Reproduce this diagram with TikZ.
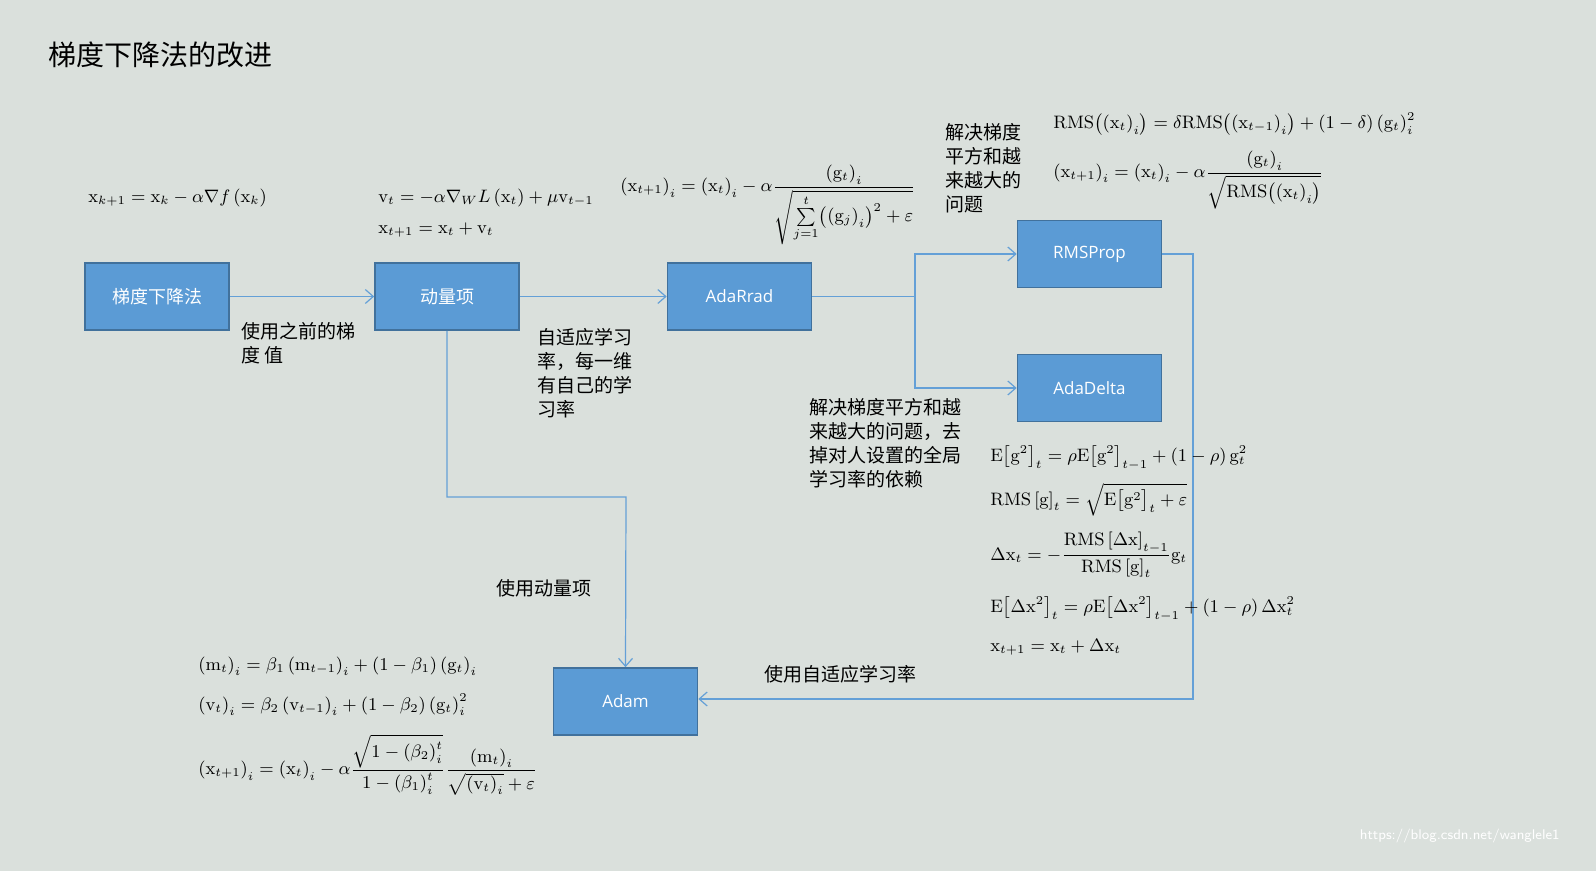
\documentclass[tikz,border=0pt]{standalone}
\usepackage{fontspec}
\usepackage{amsmath}
\newfontfamily\cjk{Noto Sans CJK SC}
\newfontfamily\boxfont{Open Sans}
\usetikzlibrary{arrows.meta}
\definecolor{bg}{RGB}{218,224,220}
\definecolor{boxfill}{RGB}{91,155,213}
\definecolor{boxdraw}{RGB}{65,113,156}
\definecolor{linec}{RGB}{100,160,215}
\begin{document}
\begin{tikzpicture}[x=0.5pt,y=-0.5pt,
  blk/.style={draw=boxdraw,line width=0.8pt,fill=boxfill,text=white,minimum width=72pt,minimum height=33.5pt,inner sep=0pt,font=\boxfont\fontsize{8.5}{10}\selectfont},
  lbl/.style={anchor=north west,align=left,inner sep=0pt,font=\cjk\fontsize{9.5}{12}\selectfont},
  eq/.style={anchor=west,inner sep=0pt,font=\fontsize{9}{11}\selectfont},
  con/.style={draw=linec,line width=0.6pt,-{Straight Barb[length=4pt,width=7pt]}}]
\fill[bg] (0,0) rectangle (1596,871);
\useasboundingbox (0,0) rectangle (1596,871);
\node[anchor=west,inner sep=0pt,font=\cjk\fontsize{14}{16}\selectfont] (title) at (48,55) {梯度下降法的改进};
% boxes
\node[blk,font=\cjk\fontsize{9}{10}\selectfont] (gd) at (157,296.5) {梯度下降法};
\node[blk,font=\cjk\fontsize{9}{10}\selectfont] (mom) at (447,296.5) {动量项};
\node[blk] (ada) at (739.5,296.5) {AdaRrad};
\node[blk] (rms) at (1089.5,254) {RMSProp};
\node[blk] (add) at (1089.5,388) {AdaDelta};
\node[blk] (adam) at (625.5,701.5) {Adam};
% connectors
\coordinate (sp) at (915,296.5);
\draw[con] (gd.east) -- (mom.west);
\draw[con] (mom.east) -- (ada.west);
\draw[draw=linec,line width=0.6pt] (ada.east) -- (sp);
\draw[con] (sp) |- (rms.west);
\draw[con] (sp) |- (add.west);
\coordinate (m1) at (447,497);
\coordinate (m2) at (626,497);
\draw[con] (mom.south) -- (m1) -- (m2) -- (adam.north);
\coordinate (r1) at (1193,254);
\coordinate (r2) at (1193,699);
\draw[con] (rms.east) -- (r1) -- (r2) -- (adam.east |- r2);
% labels
\node[lbl] (l1) at (241,322) {使用之前的梯\\度 值};
\node[lbl] (l2) at (537,328) {自适应学习\\率，每一维\\有自己的学\\习率};
\node[lbl] (l3) at (945,123) {解决梯度\\平方和越\\来越大的\\问题};
\node[lbl] (l4) at (809,398) {解决梯度平方和越\\来越大的问题，去\\掉对人设置的全局\\学习率的依赖};
\node[lbl,anchor=center] (l5) at (544,588) {使用动量项};
\node[lbl,anchor=center] (l6) at (840,674) {使用自适应学习率};
% equations
\node[eq] (e1) at (88,198) {$\mathrm{x}_{k+1}=\mathrm{x}_k-\alpha\nabla f\left(\mathrm{x}_k\right)$};
\node[eq] (e2) at (378,198) {$\mathrm{v}_t=-\alpha\nabla_W L\left(\mathrm{x}_t\right)+\mu\mathrm{v}_{t-1}$};
\node[eq] (e3) at (378,230) {$\mathrm{x}_{t+1}=\mathrm{x}_t+\mathrm{v}_t$};
\node[eq] (e4) at (620,205) {$\left(\mathrm{x}_{t+1}\right)_i=\left(\mathrm{x}_t\right)_i-\alpha\dfrac{\left(\mathrm{g}_t\right)_i}{\sqrt{\sum\limits_{j=1}^{t}\bigl(\left(\mathrm{g}_j\right)_i\bigr)^2+\varepsilon}}$};
\node[eq] (e5) at (1053,124) {$\mathrm{RMS}\bigl(\left(\mathrm{x}_t\right)_i\bigr)=\delta\mathrm{RMS}\bigl(\left(\mathrm{x}_{t-1}\right)_i\bigr)+\left(1-\delta\right)\left(\mathrm{g}_t\right)_i^2$};
\node[eq] (e6) at (1053,180) {$\left(\mathrm{x}_{t+1}\right)_i=\left(\mathrm{x}_t\right)_i-\alpha\dfrac{\left(\mathrm{g}_t\right)_i}{\sqrt{\mathrm{RMS}\bigl(\left(\mathrm{x}_t\right)_i\bigr)}}$};
\node[eq] (e7) at (990,458) {$\mathrm{E}\bigl[\mathrm{g}^2\bigr]_t=\rho\mathrm{E}\bigl[\mathrm{g}^2\bigr]_{t-1}+\left(1-\rho\right)\mathrm{g}_t^2$};
\node[eq] (e8) at (990,500) {$\mathrm{RMS}\left[\mathrm{g}\right]_t=\sqrt{\mathrm{E}\bigl[\mathrm{g}^2\bigr]_t+\varepsilon}$};
\node[eq] (e9) at (990,555) {$\Delta\mathrm{x}_t=-\dfrac{\mathrm{RMS}\left[\Delta\mathrm{x}\right]_{t-1}}{\mathrm{RMS}\left[\mathrm{g}\right]_t}\mathrm{g}_t$};
\node[eq] (e10) at (990,609) {$\mathrm{E}\bigl[\Delta\mathrm{x}^2\bigr]_t=\rho\mathrm{E}\bigl[\Delta\mathrm{x}^2\bigr]_{t-1}+\left(1-\rho\right)\Delta\mathrm{x}_t^2$};
\node[eq] (e11) at (990,647) {$\mathrm{x}_{t+1}=\mathrm{x}_t+\Delta\mathrm{x}_t$};
\node[eq] (e12) at (198,666) {$\left(\mathrm{m}_t\right)_i=\beta_1\left(\mathrm{m}_{t-1}\right)_i+\left(1-\beta_1\right)\left(\mathrm{g}_t\right)_i$};
\node[eq] (e13) at (198,705) {$\left(\mathrm{v}_t\right)_i=\beta_2\left(\mathrm{v}_{t-1}\right)_i+\left(1-\beta_2\right)\left(\mathrm{g}_t\right)_i^2$};
\node[eq] (e14) at (198,765) {$\left(\mathrm{x}_{t+1}\right)_i=\left(\mathrm{x}_t\right)_i-\alpha\dfrac{\sqrt{1-\left(\beta_2\right)_i^t}}{1-\left(\beta_1\right)_i^t}\dfrac{\left(\mathrm{m}_t\right)_i}{\sqrt{\left(\mathrm{v}_t\right)_i}+\varepsilon}$};
\node[anchor=east,inner sep=0pt,text=white,font=\sffamily\fontsize{7}{8}\selectfont] (wm) at (1560,836) {https://blog.csdn.net/wanglele1};
\end{tikzpicture}
\end{document}
